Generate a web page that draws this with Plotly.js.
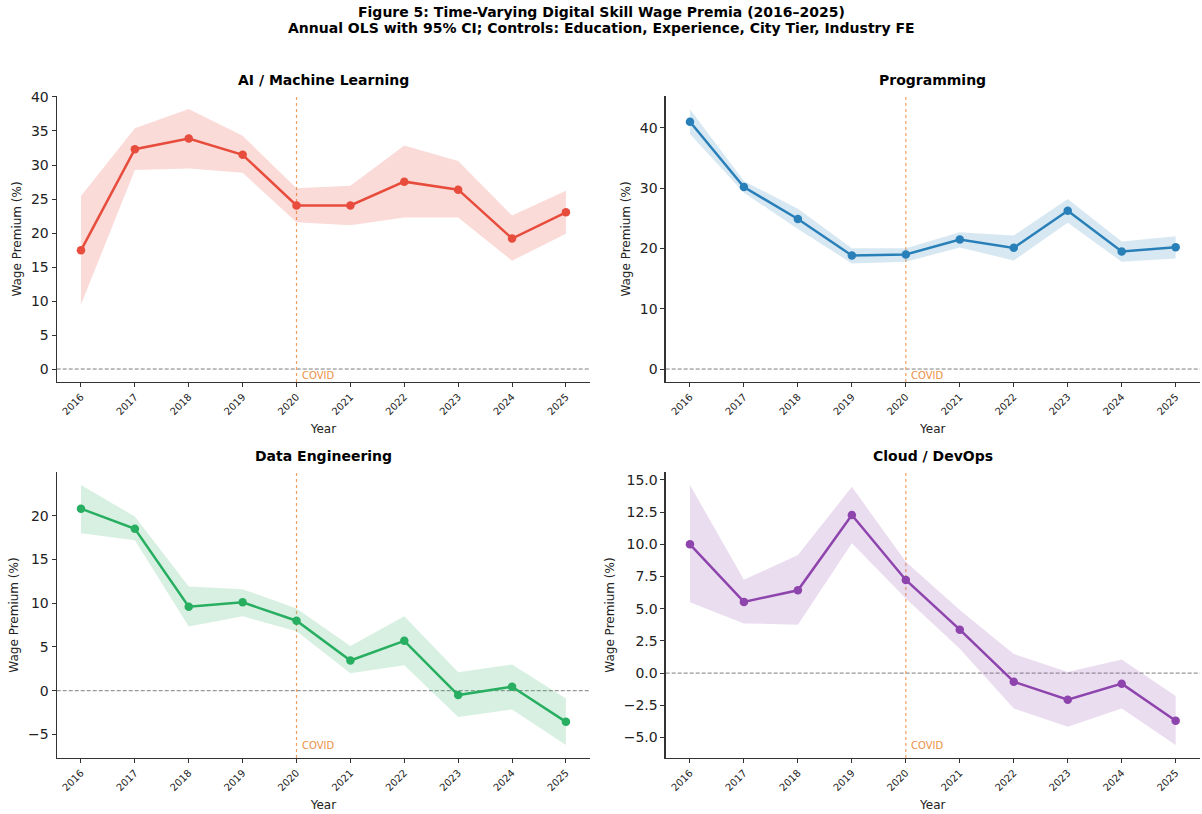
<!DOCTYPE html>
<html>
<head>
<meta charset="utf-8">
<script src="https://cdn.plot.ly/plotly-3.0.1.min.js"></script>
<style>html,body{margin:0;padding:0;background:#fff;} #chart{width:1202px;height:814px;}</style>
</head>
<body>
<div id="chart"></div>
<script>
const years = [2016, 2017, 2018, 2019, 2020, 2021, 2022, 2023, 2024, 2025];

const aiEst   = [17.45, 32.33, 33.90, 31.50, 24.05, 24.05, 27.55, 26.37, 19.19, 23.05];
const aiLo    = [9.48, 29.26, 29.50, 28.86, 21.59, 21.15, 22.27, 22.27, 15.92, 19.88];
const aiHi    = [25.45, 35.41, 38.24, 34.29, 26.57, 26.96, 32.87, 30.57, 22.56, 26.23];

const progEst = [40.99, 30.15, 24.87, 18.82, 18.98, 21.46, 20.08, 26.24, 19.48, 20.19];
const progLo  = [38.95, 29.22, 23.22, 17.50, 17.77, 20.14, 17.99, 24.26, 17.77, 18.32];
const progHi  = [43.03, 31.14, 26.57, 20.03, 20.03, 22.67, 22.12, 28.17, 21.13, 22.00];

const deEst   = [20.80, 18.50, 9.60, 10.10, 8.00, 3.45, 5.70, -0.50, 0.45, -3.56];
const deLo    = [18.00, 17.20, 7.35, 8.50, 6.80, 2.00, 2.90, -3.00, -2.15, -6.20];
const deHi    = [23.50, 19.90, 11.90, 11.60, 9.40, 5.10, 8.50, 2.10, 3.00, -0.90];

const cloudEst = [10.00, 5.53, 6.43, 12.27, 7.23, 3.37, -0.67, -2.06, -0.82, -3.70];
const cloudLo  = [5.50, 3.86, 3.76, 10.08, 5.79, 1.90, -2.75, -4.17, -2.75, -5.58];
const cloudHi  = [14.60, 7.25, 9.16, 14.46, 8.64, 4.90, 1.49, 0.08, 1.05, -1.78];

const panelTitles = ["AI / Machine Learning", "Programming", "Data Engineering", "Cloud / DevOps"];
const mainTitle = "Figure 5: Time-Varying Digital Skill Wage Premia (2016–2025)";
const subTitle = "Annual OLS with 95% CI; Controls: Education, Experience, City Tier, Industry FE";
const covidYear = 2020;

const panels = [
  {est: aiEst, lo: aiLo, hi: aiHi, color: "#e74c3c", band: "rgba(231,76,60,0.2)", range: [-1.91, 40.15], dtick: 5, fmt: "d"},
  {est: progEst, lo: progLo, hi: progHi, color: "#2980b9", band: "rgba(41,128,185,0.18)", range: [-2.15, 45.25], dtick: 10, fmt: "d"},
  {est: deEst, lo: deLo, hi: deHi, color: "#27ae60", band: "rgba(39,174,96,0.18)", range: [-7.69, 24.99], dtick: 5, fmt: "d"},
  {est: cloudEst, lo: cloudLo, hi: cloudHi, color: "#8e44ad", band: "rgba(142,68,173,0.18)", range: [-6.59, 15.61], dtick: 2.5, fmt: ".1f"}
];

const xDomains = [[0.0472, 0.4910], [0.5538, 0.9983], [0.0472, 0.4910], [0.5538, 0.9983]];
const yDomains = [[0.5307, 0.8821], [0.5307, 0.8821], [0.0688, 0.4201], [0.0688, 0.4201]];
const covidShift = [-1, -1, 5, 5];

const FONT = "DejaVu Sans, Verdana, sans-serif";
const traces = [];
const layout = {
  width: 1202, height: 814,
  margin: {l: 0, r: 0, t: 0, b: 0},
  paper_bgcolor: "#ffffff", plot_bgcolor: "#ffffff",
  showlegend: false,
  font: {family: FONT, color: "#222"},
  shapes: [],
  annotations: [
    {text: "<b>" + mainTitle + "</b>", xref: "paper", yref: "paper", x: 0.5, y: 1 - 12 / 814,
     xanchor: "center", yanchor: "middle", showarrow: false, font: {family: FONT, size: 14, color: "#000"}},
    {text: "<b>" + subTitle + "</b>", xref: "paper", yref: "paper", x: 0.5, y: 1 - 28 / 814,
     xanchor: "center", yanchor: "middle", showarrow: false, font: {family: FONT, size: 14, color: "#000"}}
  ]
};

panels.forEach((p, i) => {
  const n = i + 1;
  const xa = n === 1 ? "x" : "x" + n;
  const ya = n === 1 ? "y" : "y" + n;
  traces.push({x: years, y: p.hi, xaxis: xa, yaxis: ya, mode: "lines", line: {width: 0, color: p.band}, hoverinfo: "skip"});
  traces.push({x: years, y: p.lo, xaxis: xa, yaxis: ya, mode: "lines", line: {width: 0, color: p.band}, fill: "tonexty", fillcolor: p.band, hoverinfo: "skip"});
  traces.push({x: years, y: p.est, xaxis: xa, yaxis: ya, mode: "lines+markers",
    line: {color: p.color, width: 2.5}, marker: {color: p.color, size: 8.5}});

  layout["xaxis" + (n === 1 ? "" : n)] = {
    domain: xDomains[i], anchor: ya, range: [2015.55, 2025.45],
    tickmode: "array", tickvals: years, ticktext: years.map(String), tickangle: -45,
    tickfont: {size: 10, color: "#222"}, ticks: "outside", ticklen: 4, tickcolor: "#333",
    showline: true, linecolor: "#333", linewidth: 1.2, showgrid: false, zeroline: false,
    title: {text: "Year", font: {size: 12, color: "#222"}, standoff: 8}
  };
  layout["yaxis" + (n === 1 ? "" : n)] = {
    domain: yDomains[i], anchor: xa, range: p.range, dtick: p.dtick, tick0: 0, tickformat: p.fmt,
    tickfont: {size: 14, color: "#222"}, ticks: "outside", ticklen: 4, tickcolor: "#333",
    showline: true, linecolor: "#333", linewidth: 1.2, showgrid: false, zeroline: false,
    title: {text: "Wage Premium (%)", font: {size: 12, color: "#222"}, standoff: 6}
  };

  layout.shapes.push({type: "line", xref: xa + " domain", yref: ya, x0: 0, x1: 1, y0: 0, y1: 0,
    line: {color: "#7f7f7f", width: 1, dash: "4px,2px"}, layer: "below"});
  layout.shapes.push({type: "line", xref: xa, yref: ya + " domain", x0: covidYear, x1: covidYear, y0: 0, y1: 1,
    line: {color: "#f0a060", width: 1.2, dash: "dot"}, layer: "below"});

  layout.annotations.push({text: "COVID", xref: xa, yref: ya + " domain", x: covidYear, y: 0,
    xanchor: "left", yanchor: "bottom", xshift: 3, yshift: covidShift[i], showarrow: false,
    font: {size: 10, color: "#ec9045", family: FONT}});
  layout.annotations.push({text: "<b>" + panelTitles[i] + "</b>", xref: "paper", yref: "paper",
    x: (xDomains[i][0] + xDomains[i][1]) / 2, y: yDomains[i][1], yshift: 6,
    xanchor: "center", yanchor: "bottom", showarrow: false,
    font: {size: 14, color: "#000", family: FONT}});
});

Plotly.newPlot("chart", traces, layout, {displayModeBar: false, staticPlot: true});
</script>
</body>
</html>
